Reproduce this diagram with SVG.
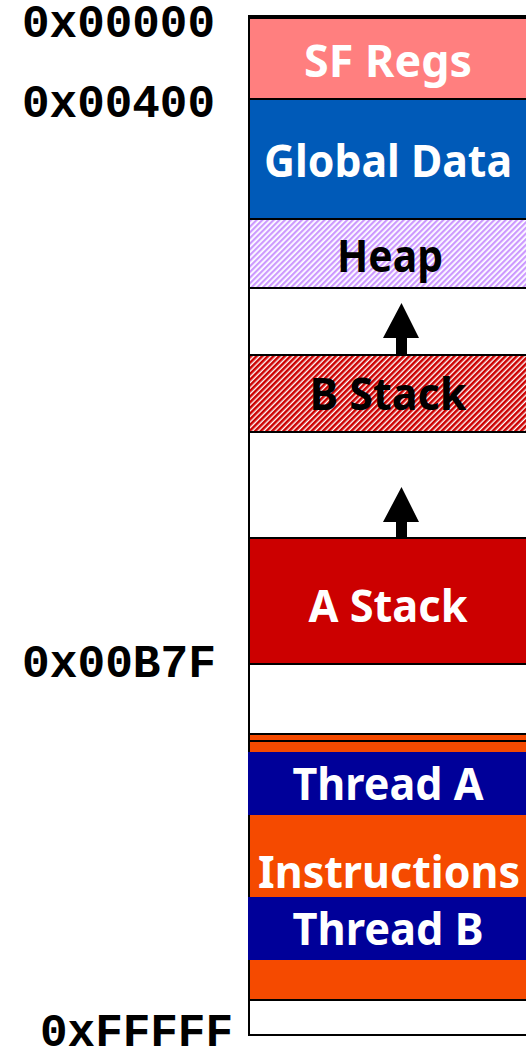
<svg xmlns="http://www.w3.org/2000/svg" width="526" height="1047" viewBox="0 0 526 1047">
<style>
.addr{font-family:"Liberation Mono","Courier New",monospace;font-weight:bold;font-size:46px;fill:#000}
.lbl{font-family:"Noto Sans","DejaVu Sans",Verdana,sans-serif;font-weight:bold;font-size:44px;text-anchor:middle}
.w{fill:#fff}
.k{fill:#000}
.blk{stroke:#000;stroke-width:2}
.arrow{fill:#000}
</style>
<defs>
<pattern id="hatchHeap" patternUnits="userSpaceOnUse" width="4" height="4" patternTransform="rotate(45)">
<rect width="4" height="4" fill="#fff"/>
<rect width="2.2" height="4" fill="#CC99FF"/>
</pattern>
<pattern id="hatchB" patternUnits="userSpaceOnUse" width="4" height="4" patternTransform="rotate(45)">
<rect width="4" height="4" fill="#fff"/>
<rect width="2.6" height="4" fill="#CC0000"/>
</pattern>
</defs>

<g id="frame">
<rect x="249" y="16" width="290" height="1019" fill="#fff" stroke="#000" stroke-width="2"/>
</g>

<g id="sf-regs">
<rect class="blk" x="249" y="18" width="290" height="81" fill="#FF7F7F"/>
<text class="lbl w" x="388" y="77" textLength="168" lengthAdjust="spacingAndGlyphs">SF Regs</text>
</g>
<g id="global-data">
<rect class="blk" x="249" y="99" width="290" height="120" fill="#005AB8"/>
<text class="lbl w" x="388" y="177" textLength="248" lengthAdjust="spacingAndGlyphs">Global Data</text>
</g>
<g id="heap">
<rect class="blk" x="249" y="219" width="290" height="69" fill="url(#hatchHeap)"/>
<text class="lbl k" x="390" y="272" textLength="106" lengthAdjust="spacingAndGlyphs">Heap</text>
</g>
<g id="b-stack">
<rect class="blk" x="249" y="355" width="290" height="77" fill="url(#hatchB)"/>
<text class="lbl k" x="388" y="410" textLength="157" lengthAdjust="spacingAndGlyphs">B Stack</text>
</g>
<g id="a-stack">
<rect class="blk" x="249" y="538" width="290" height="126" fill="#CC0000"/>
<text class="lbl w" x="388" y="622" textLength="159" lengthAdjust="spacingAndGlyphs">A Stack</text>
</g>
<g id="instructions">
<rect x="249" y="734" width="290" height="266" fill="#F54A00" stroke="#000" stroke-width="2"/>
<line x1="249" y1="741" x2="539" y2="741" stroke="#000" stroke-width="2"/>
<text class="lbl w" x="389" y="888" textLength="262" lengthAdjust="spacingAndGlyphs">Instructions</text>
</g>
<g id="thread-a">
<rect x="248" y="752" width="291" height="63" fill="#000099"/>
<text class="lbl w" x="388" y="800" textLength="191" lengthAdjust="spacingAndGlyphs">Thread A</text>
</g>
<g id="thread-b">
<rect x="248" y="897" width="291" height="63" fill="#000099"/>
<text class="lbl w" x="388" y="945" textLength="191" lengthAdjust="spacingAndGlyphs">Thread B</text>
</g>

<g id="connectors">
<polygon class="arrow" points="401.5,303 419,338 407,338 407,355 396,355 396,338 383,338"/>
<polygon class="arrow" points="401.5,487 419,522 407,522 407,538 396,538 396,522 383,522"/>
</g>

<g id="addresses">
<text class="addr" x="22" y="37" textLength="193" lengthAdjust="spacingAndGlyphs">0x00000</text>
<text class="addr" x="22" y="117" textLength="193" lengthAdjust="spacingAndGlyphs">0x00400</text>
<text class="addr" x="22" y="677" textLength="194" lengthAdjust="spacingAndGlyphs">0x00B7F</text>
<text class="addr" x="40" y="1046" textLength="193" lengthAdjust="spacingAndGlyphs">0xFFFFF</text>
</g>
</svg>
